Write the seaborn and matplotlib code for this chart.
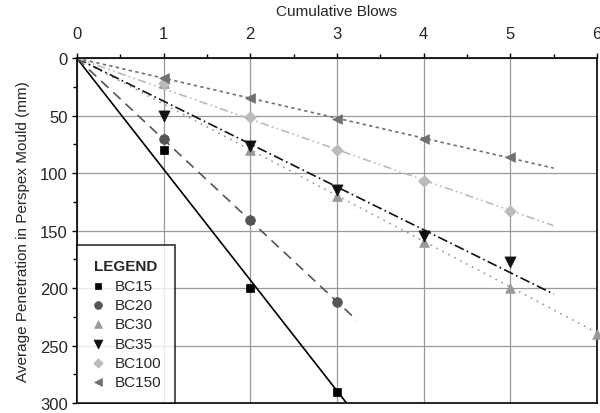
import numpy as np
import pandas as pd
import matplotlib
matplotlib.use("Agg")
import matplotlib.pyplot as plt
import seaborn as sns
from matplotlib.ticker import MultipleLocator

sns.set_theme(style="white")
plt.rcParams['font.family'] = ['Liberation Sans', 'DejaVu Sans']

names = ["BC15", "BC20", "BC30", "BC35", "BC100", "BC150"]
blows = {
    "BC15": [1, 2, 3],
    "BC20": [1, 2, 3],
    "BC30": [1, 2, 3, 4, 5, 6],
    "BC35": [1, 2, 3, 4, 5],
    "BC100": [1, 2, 3, 4, 5],
    "BC150": [1, 2, 3, 4, 5],
}
penetration = {
    "BC15": [80, 200, 290],
    "BC20": [70, 141, 212],
    "BC30": [22, 80, 120, 160, 200, 240],
    "BC35": [50, 76, 115, 155, 177],
    "BC100": [22, 51, 80, 107, 133],
    "BC150": [17, 35, 53, 70, 86],
}
fit_end = {"BC15": 3.2, "BC20": 3.23, "BC30": 6.0, "BC35": 5.5, "BC100": 5.5, "BC150": 5.5}

colors = {"BC15": "#000000", "BC20": "#555555", "BC30": "#999999",
          "BC35": "#111111", "BC100": "#bbbbbb", "BC150": "#707070"}
markers = {"BC15": "s", "BC20": "o", "BC30": "^", "BC35": "v", "BC100": "D", "BC150": "<"}
msizes = {"BC15": 6, "BC20": 7, "BC30": 7, "BC35": 8, "BC100": 6, "BC150": 7}
lstyles = {"BC15": "-", "BC20": (0, (6, 4)), "BC30": (0, (1, 3)),
           "BC35": (0, (6, 2, 1, 2)), "BC100": (0, (5, 2, 1, 2, 1, 2)), "BC150": (0, (2, 2))}

rows = []
for n in names:
    for x, y in zip(blows[n], penetration[n]):
        rows.append({"Series": n, "Blows": x, "Pen": y})
df = pd.DataFrame(rows)

fig = plt.figure(figsize=(6, 4.14), dpi=100)
ax = fig.add_axes([0.128, 0.024, 0.867, 0.833])

for n in names:
    x = np.array(blows[n], float)
    y = np.array(penetration[n], float)
    slope = (x * y).sum() / (x * x).sum()
    xs = np.array([0.0, fit_end[n]])
    ax.plot(xs, slope * xs, color=colors[n], linestyle=lstyles[n], lw=1.2, zorder=2)

for n in names:
    sub = df[df.Series == n]
    sns.scatterplot(data=sub, x="Blows", y="Pen", ax=ax, color=colors[n],
                    marker=markers[n], s=msizes[n] ** 2, edgecolor=colors[n],
                    linewidth=0.5, label=n, zorder=3, clip_on=False)

ax.set_xlim(0, 6)
ax.set_ylim(300, 0)
ax.xaxis.tick_top()
ax.xaxis.set_label_position("top")
ax.xaxis.set_major_locator(MultipleLocator(1))
ax.xaxis.set_minor_locator(MultipleLocator(0.5))
ax.yaxis.set_major_locator(MultipleLocator(50))
ax.yaxis.set_minor_locator(MultipleLocator(25))
ax.tick_params(axis="x", which="major", direction="out", length=3.5, width=1,
               labelsize=12, color="black", pad=9, top=True, bottom=False)
ax.tick_params(axis="y", which="major", direction="out", length=3.5, width=1,
               labelsize=12, color="black", pad=3, left=True)
ax.tick_params(axis="both", which="minor", direction="out", length=3, width=1,
               color="black", top=True, bottom=False, left=True)
ax.grid(True, which="major", color="#999999", lw=0.9)
for s in ax.spines.values():
    s.set_color("black")
    s.set_linewidth(1.2)
ax.set_xlabel("Cumulative Blows", fontsize=11, labelpad=8)
ax.set_ylabel("Average Penetration in Perspex Mould (mm)", fontsize=11, labelpad=7)

leg = ax.legend(title="LEGEND", loc="lower left", frameon=True, fancybox=False,
                edgecolor="black", fontsize=11, handletextpad=0.6,
                handlelength=1.0, borderaxespad=0.0, labelspacing=0.35,
                markerscale=0.8, borderpad=0.9)
leg.get_title().set_fontweight("bold")
leg.get_title().set_fontsize(11)
leg.get_frame().set_linewidth(1.2)

fig.savefig("out.png", dpi=100)
